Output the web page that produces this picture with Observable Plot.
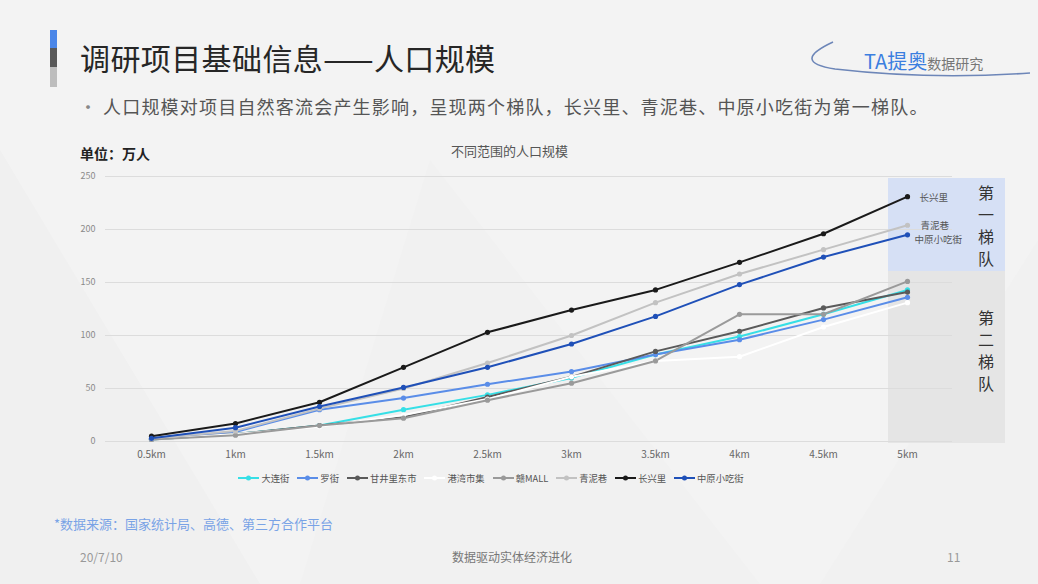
<!DOCTYPE html>
<html><head><meta charset="utf-8">
<script src="https://cdn.jsdelivr.net/npm/d3@7"></script>
<script src="https://cdn.jsdelivr.net/npm/@observablehq/plot@0.6"></script>
<style>
html,body{margin:0;padding:0;}
body{width:1038px;height:584px;overflow:hidden;background:#f3f3f3;font-family:"Noto Sans CJK SC","Noto Sans",sans-serif;position:relative;}
.abs{position:absolute;white-space:nowrap;}
#chart{position:absolute;left:0;top:160px;}
.vc{position:absolute;width:24px;text-align:center;font-size:16px;line-height:17px;color:#333;}
#legend{position:absolute;top:471px;left:0;width:982px;display:flex;justify-content:center;font-size:9.3px;color:#555;}
#legend .it{display:flex;align-items:center;margin:0 4px;}
#legend svg{margin-right:2px;}
</style></head>
<body>
<svg class="abs" style="left:0;top:0" width="1038" height="584">
  <polygon points="0,150 260,584 0,584" fill="#f0f0f0"/>
  <polygon points="430,160 760,584 300,584" fill="#f1f1f1"/>
  <polygon points="1038,240 1038,584 820,584" fill="#f1f1f1"/>
  <rect x="50" y="30" width="7" height="18" fill="#4a86e8"/>
  <rect x="50" y="48" width="7" height="19" fill="#595959"/>
  <rect x="50" y="67" width="7" height="20" fill="#bdbdbd"/>
  <path d="M833 42 Q 790 62 835 69 Q 930 80 1030 73" fill="none" stroke="#6d86b8" stroke-width="1.6"/>
</svg>
<div class="abs" style="left:80px;top:37px;font-size:30px;color:#262626;line-height:40px;letter-spacing:0.4px;">调研项目基础信息——人口规模</div>
<div class="abs" style="left:864px;top:47px;font-size:20px;color:#3b7fe0;line-height:28px;">TA提奥<span style="font-size:14px;color:#777;">数据研究</span></div>
<div class="abs" style="left:79px;top:94px;font-size:18px;color:#888;line-height:24px;">•</div>
<div class="abs" style="left:103px;top:94px;font-size:18px;color:#555;line-height:24px;letter-spacing:1.2px;">人口规模对项目自然客流会产生影响，呈现两个梯队，长兴里、青泥巷、中原小吃街为第一梯队。</div>
<div class="abs" style="left:80px;top:143px;font-size:14px;font-weight:bold;color:#222;line-height:20px;">单位：万人</div>
<div class="abs" style="left:451px;top:141px;font-size:13px;color:#555;line-height:20px;">不同范围的人口规模</div>
<div class="abs" style="left:888px;top:178px;width:117px;height:93px;background:#d6e0f5;"></div>
<div class="abs" style="left:888px;top:271px;width:117px;height:172px;background:#e5e5e5;"></div>
<div id="tiers"></div>
<div id="chart"></div>
<div id="legend"></div>
<div class="abs" style="left:54px;top:514px;font-size:13px;color:#79a3e6;line-height:20px;">*数据来源：国家统计局、高德、第三方合作平台</div>
<div class="abs" style="left:80px;top:549px;font-size:12px;color:#999;line-height:16px;">20/7/10</div>
<div class="abs" style="left:452px;top:549px;font-size:12px;color:#777;line-height:16px;">数据驱动实体经济进化</div>
<div class="abs" style="left:947px;top:549px;font-size:12px;color:#999;line-height:16px;">11</div>
<script>
const ranges = ["0.5km","1km","1.5km","2km","2.5km","3km","3.5km","4km","4.5km","5km"];
const seriesNames = ["大连街","罗街","甘井里东市","港湾市集","赣MALL","青泥巷","长兴里","中原小吃街"];
const seriesColors = ["#36dfe6","#5a8de8","#5a5a5a","#ffffff","#9a9a9a","#c2c2c2","#1a1a1a","#1f50b8"];
const daLianJie   = [2, 7, 15, 30, 44, 60, 82, 99, 120, 143];
const luoJie      = [2, 9, 30, 41, 54, 66, 82, 96, 115, 136];
const ganJingLi   = [2, 7, 15, 23, 42, 61, 85, 104, 126, 141];
const gangWan     = [2, 7, 14, 25, 40, 61, 76, 80, 108, 131];
const ganMall     = [2, 6, 15, 22, 39, 55, 76, 120, 120, 151];
const qingNiXiang = [3, 10, 31, 50, 74, 100, 131, 158, 181, 204];
const changXingLi = [5, 17, 37, 70, 103, 124, 143, 169, 196, 231];
const zhongYuan   = [3, 13, 33, 51, 70, 92, 118, 148, 174, 195];
const yTicks = [0, 50, 100, 150, 200, 250];
const tier1Labels = ["长兴里","青泥巷","中原小吃街"];
const tierTexts = ["第一梯队","第二梯队"];

const allValues = [daLianJie, luoJie, ganJingLi, gangWan, ganMall, qingNiXiang, changXingLi, zhongYuan];
const rows = [];
seriesNames.forEach((name, i) => {
  allValues[i].forEach((v, j) => rows.push({series: name, range: ranges[j], value: v}));
});
const lastRange = ranges[ranges.length - 1];
const labelOffsets = {"长兴里": [12, 1], "青泥巷": [13, 1], "中原小吃街": [7, 5]};

const chart = Plot.plot({
  width: 1038, height: 310,
  marginTop: 16, marginBottom: 29, marginLeft: 105, marginRight: 86,
  style: {background: "transparent", fontFamily: "Noto Sans CJK SC, Noto Sans, sans-serif", fontSize: "10px", color: "#666"},
  x: {type: "point", domain: ranges, padding: 0.5, label: null},
  y: {domain: [0, 250], ticks: yTicks, label: null},
  color: {domain: seriesNames, range: seriesColors},
  marks: [
    Plot.gridY(yTicks, {stroke: "#dcdcdc", strokeOpacity: 1}),
    Plot.axisY({ticks: yTicks, tickSize: 0, tickPadding: 10, fontSize: 9, fill: "#8a8a8a", label: null}),
    Plot.axisX({tickSize: 0, tickPadding: 9, fill: "#666", label: null}),
    ...seriesNames.map(name => Plot.line(rows.filter(r => r.series === name), {x: "range", y: "value", stroke: "series", strokeWidth: 2})),
    ...seriesNames.map(name => Plot.dot(rows.filter(r => r.series === name), {x: "range", y: "value", fill: "series", r: 2.6})),
    ...tier1Labels.map(name => Plot.text(rows.filter(r => r.series === name && r.range === lastRange), {
      x: "range", y: "value", text: "series", textAnchor: "start",
      dx: labelOffsets[name][0], dy: labelOffsets[name][1], fontSize: 9.5, fill: "#555"}))
  ]
});
document.getElementById("chart").appendChild(chart);

const tiers = document.getElementById("tiers");
tierTexts.forEach((t, k) => {
  [...t].forEach((ch, i) => {
    const d = document.createElement("div");
    d.className = "vc";
    d.style.left = "974px";
    d.style.top = (k === 0 ? 184 : 309) + i * 22 + "px";
    d.textContent = ch;
    tiers.appendChild(d);
  });
});

const legend = document.getElementById("legend");
seriesNames.forEach((name, i) => {
  const it = document.createElement("div");
  it.className = "it";
  it.innerHTML = `<svg width="21" height="8"><line x1="0" y1="4" x2="21" y2="4" stroke="${seriesColors[i]}" stroke-width="2"/><circle cx="10.5" cy="4" r="2.5" fill="${seriesColors[i]}"/></svg><span>${name}</span>`;
  legend.appendChild(it);
});
</script>
</body></html>
